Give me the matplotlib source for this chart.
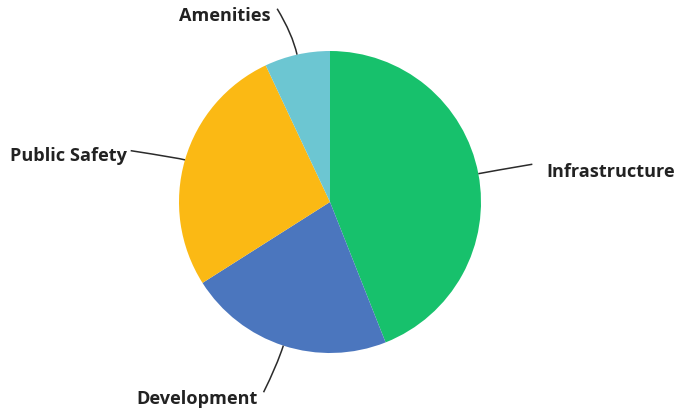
import numpy as np
import matplotlib
matplotlib.use("Agg")
import matplotlib.pyplot as plt
from matplotlib.path import Path
from matplotlib.patches import PathPatch

plt.rcParams['font.family'] = ['Open Sans', 'DejaVu Sans']

# Budget share by category (percent)
categories = ["Infrastructure", "Development", "Public Safety", "Amenities"]
values = [44, 22, 27, 7]
colors = ["#17C16C", "#4B76BE", "#FBB914", "#6CC6D2"]

# Where each label's leader line ends, in pie-radius units from the centre
label_anchor = {
    "Infrastructure": (1.34, 0.25),
    "Development": (-0.44, -1.26),
    "Public Safety": (-1.32, 0.34),
    "Amenities": (-0.35, 1.28),
}
label_side = {"Infrastructure": "left", "Development": "right",
              "Public Safety": "right", "Amenities": "right"}
label_gap = {"Infrastructure": (0.09, -0.045), "Development": (-0.04, -0.035),
             "Public Safety": (-0.025, -0.03), "Amenities": (-0.04, -0.04)}
# How far the leader runs outward before bending
bend = {"Infrastructure": 1.1, "Development": 1.14,
        "Public Safety": 1.04, "Amenities": 1.14}

W, H, DPI = 678, 410, 100
fig = plt.figure(figsize=(W / DPI, H / DPI), dpi=DPI)
ax = fig.add_axes([0, 0, 1, 1])

# Pie centre and radius in pixels, converted to axis limits (radius = 1)
cx, cy, r = 330, 203, 151

wedges, _ = ax.pie(values, colors=colors, startangle=90, counterclock=False,
                   radius=1.0, center=(0, 0), frame=True,
                   wedgeprops=dict(linewidth=0))
ax.set_xlim(-cx / r, (W - cx) / r)
ax.set_ylim(-(H - cy) / r, cy / r)
ax.set_aspect("auto")
ax.axis("off")

for w, name in zip(wedges, categories):
    mid = np.deg2rad((w.theta1 + w.theta2) / 2)
    d = np.array([np.cos(mid), np.sin(mid)])
    start = d * 1.0
    ctrl = d * bend[name]
    end = np.array(label_anchor[name])
    path = Path([start, ctrl, end], [Path.MOVETO, Path.CURVE3, Path.CURVE3])
    ax.add_patch(PathPatch(path, fill=False, edgecolor="#2b2b2b", lw=1.1))
    gx, gy = label_gap[name]
    ax.text(end[0] + gx, end[1] + gy, name, ha=label_side[name], va="center",
            fontsize=13.1, fontweight="bold", color="#222222")

fig.savefig("out.png", dpi=DPI, facecolor="white")
